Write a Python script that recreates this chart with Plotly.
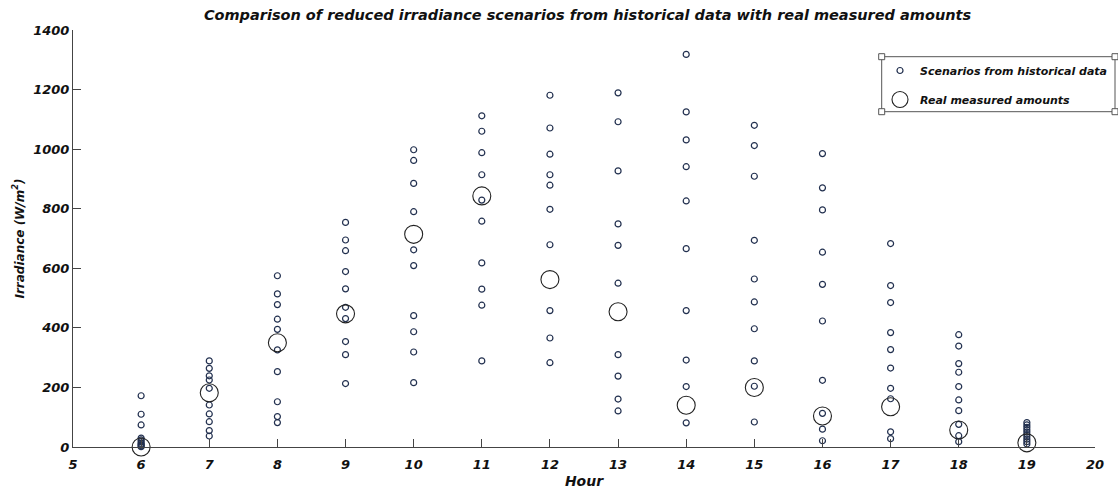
import plotly.graph_objects as go

hours = [6, 7, 8, 9, 10, 11, 12, 13, 14, 15, 16, 17, 18, 19]

scen_h6 = [172, 110, 74, 30, 24, 18, 12, 8, 4, 1]
scen_h7 = [289, 264, 239, 225, 197, 141, 111, 85, 55, 37]
scen_h8 = [575, 514, 478, 429, 395, 326, 253, 152, 102, 82]
scen_h9 = [754, 695, 659, 589, 531, 469, 431, 354, 310, 213]
scen_h10 = [998, 962, 885, 790, 662, 609, 441, 387, 319, 216]
scen_h11 = [1112, 1060, 988, 914, 829, 758, 618, 530, 476, 289]
scen_h12 = [1181, 1071, 983, 914, 879, 798, 679, 458, 366, 283]
scen_h13 = [1189, 1092, 927, 749, 677, 550, 310, 238, 161, 121]
scen_h14 = [1318, 1125, 1031, 941, 826, 666, 458, 292, 203, 81]
scen_h15 = [1080, 1012, 909, 694, 564, 487, 397, 289, 204, 84]
scen_h16 = [985, 870, 796, 654, 546, 423, 224, 113, 60, 21]
scen_h17 = [683, 542, 485, 384, 327, 265, 197, 162, 51, 28]
scen_h18 = [377, 339, 280, 251, 203, 158, 122, 76, 38, 18]
scen_h19 = [82, 74, 66, 58, 50, 42, 34, 26, 18, 10]

real_measured = [0, 182, 350, 447, 714, 843, 562, 454, 140, 200, 104, 135, 57, 14]

x_ticks = list(range(5, 21))
y_ticks = list(range(0, 1401, 200))

scenarios = [scen_h6, scen_h7, scen_h8, scen_h9, scen_h10, scen_h11, scen_h12,
             scen_h13, scen_h14, scen_h15, scen_h16, scen_h17, scen_h18, scen_h19]

sx, sy = [], []
for h, vals in zip(hours, scenarios):
    for v in vals:
        sx.append(h)
        sy.append(v)

FONT = "DejaVu Sans"

fig = go.Figure()
fig.add_trace(go.Scatter(
    x=sx, y=sy, mode="markers", name="Scenarios from historical data",
    legendgroup="a",
    marker=dict(symbol="circle-open", size=6, color="#22304f", line=dict(width=1.2, color="#22304f")),
    cliponaxis=False,
))
fig.add_trace(go.Scatter(
    x=hours, y=real_measured, mode="markers", name="Real measured amounts",
    legendgroup="b",
    marker=dict(symbol="circle-open", size=18, color="#222222", line=dict(width=1.1, color="#222222")),
    cliponaxis=False,
))

L, R, T, B = 73, 23, 30, 44
W, H = 1118, 491
pw, ph = W - L - R, H - T - B

def px_x(p):
    return (p - L) / pw

def px_y(p):
    return (H - B - p) / ph

shapes = []
# legend box
bx0, bx1, by0, by1 = 881.7, 1115, 56.7, 111.7
shapes.append(dict(type="rect", xref="paper", yref="paper",
                   x0=px_x(bx0), x1=px_x(bx1), y0=px_y(by1), y1=px_y(by0),
                   line=dict(color="#555555", width=1), fillcolor="rgba(0,0,0,0)", layer="above"))
for cx in (bx0, bx1):
    for cy in (by0, by1):
        shapes.append(dict(type="rect", xref="paper", yref="paper",
                           x0=px_x(cx - 3), x1=px_x(cx + 3), y0=px_y(cy + 3), y1=px_y(cy - 3),
                           line=dict(color="#555555", width=1), fillcolor="white", layer="above"))

tickfont = dict(family=FONT, size=13, color="#111111", weight="bold", style="italic")

fig.update_layout(
    width=W, height=H,
    margin=dict(l=L, r=R, t=T, b=B, autoexpand=False),
    paper_bgcolor="white", plot_bgcolor="white",
    title=dict(text="Comparison of reduced irradiance scenarios from historical data with real measured amounts",
               x=(587.5 - L) / pw, xref="paper", xanchor="center", y=1 - 15 / H, yref="container", yanchor="middle",
               font=dict(family=FONT, size=14.5, color="#111111", weight="bold", style="italic")),
    xaxis=dict(range=[5, 20], tickvals=x_ticks, showline=True, linecolor="#444444", linewidth=1,
               ticks="inside", ticklen=8, tickcolor="#444444", showgrid=False, zeroline=False,
               tickfont=tickfont, ticklabelstandoff=5, automargin=False,
               title=dict(text="Hour", standoff=5,
                          font=dict(family=FONT, size=14, color="#111111", weight="bold", style="italic"))),
    yaxis=dict(range=[0, 1400], tickvals=y_ticks, showline=True, linecolor="#444444", linewidth=1,
               ticks="inside", ticklen=8, tickcolor="#444444", showgrid=False, zeroline=False,
               tickfont=tickfont, automargin=False,
               title=dict(text="Irradiance (W/m<sup>2</sup>)", standoff=6,
                          font=dict(family=FONT, size=12, color="#111111", weight="bold", style="italic"))),
    showlegend=True,
    legend=dict(x=px_x(880), y=px_y(56), xanchor="left", yanchor="top",
                bgcolor="rgba(0,0,0,0)", borderwidth=0, traceorder="grouped", tracegroupgap=10,
                font=dict(family=FONT, size=11, color="#111111", weight="bold", style="italic")),
    shapes=shapes,
)

fig.write_html("out.html")
